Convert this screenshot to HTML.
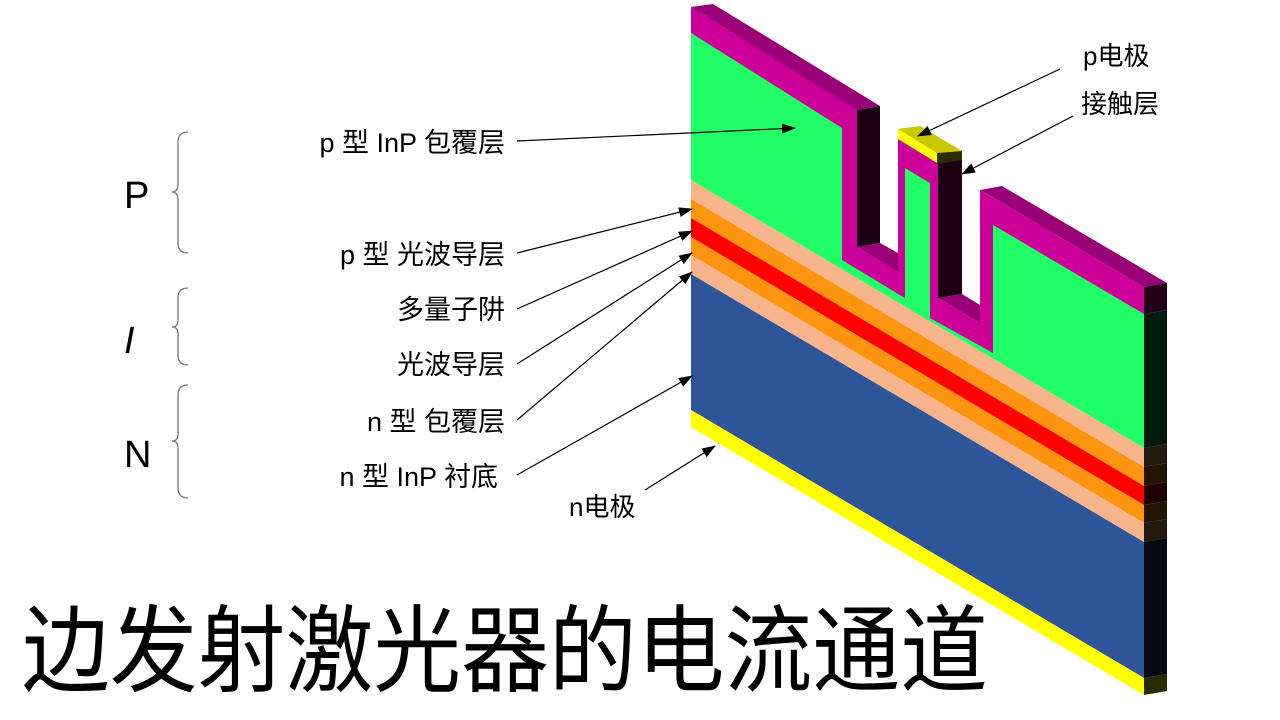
<!DOCTYPE html>
<html><head><meta charset="utf-8"><style>
html,body{margin:0;padding:0;background:#fff;}
svg{display:block;}
text{font-family:"Liberation Sans","Noto Sans CJK SC",sans-serif;fill:#000;}
</style></head><body>
<svg width="1280" height="720" viewBox="0 0 1280 720" xmlns="http://www.w3.org/2000/svg">
<defs>
<marker id="ah" markerWidth="14" markerHeight="10" refX="13" refY="5" orient="auto" markerUnits="userSpaceOnUse">
<path d="M0,0 L14,5 L0,10 z" fill="#000"/>
</marker>
</defs>
<polygon points="691,33 1144,310 1144,448 691,180" fill="#22FF66"/>
<polygon points="691,7 842,100 842,128 691,33" fill="#CC0099"/>
<polygon points="857,0 898,0 898,272 857,247" fill="#fff"/>
<polygon points="898,0 938,0 938,162 898,138" fill="#fff"/>
<polygon points="938,0 980,0 980,323 938,298" fill="#fff"/>
<polygon points="980,0 1170,0 1170,283 980,190" fill="#fff"/>
<polygon points="905,168 930,183 930,322 905,307" fill="#22FF66"/>
<polygon points="691,180 1144,448 1144,467 691,199" fill="#F8B58B"/>
<polygon points="691,199 1144,467 1144,486 691,218" fill="#FF9410"/>
<polygon points="691,218 1144,486 1144,505 691,237" fill="#FF0000"/>
<polygon points="691,237 1144,505 1144,523 691,255" fill="#FF9410"/>
<polygon points="691,255 1144,523 1144,542 691,274" fill="#F8B58B"/>
<polygon points="691,274 1144,542 1144,678 691,410" fill="#2E5597"/>
<polygon points="691,410 1144,678 1144,695 691,427" fill="#FFFF00"/>
<polygon points="842,100 857,110 857,247 842,260" fill="#CC0099"/>
<polygon points="842,245 857,247 898,272 905,272 905,298 842,260" fill="#CC0099"/>
<polygon points="898,138 938,162 938,322 930,318 930,183 905,168 905,298 898,294" fill="#CC0099"/>
<polygon points="930,300 938,298 980,323 993,330 993,353 930,318" fill="#CC0099"/>
<polygon points="980,190 993,198 993,353 980,345" fill="#CC0099"/>
<polygon points="980,190 1144,287 1144,314 993,225 993,198" fill="#CC0099"/>
<polygon points="691,7 713,4 880,106 857,110" fill="#990077"/>
<polygon points="857,247 880,243 898,253 898,272" fill="#990077"/>
<polygon points="938,298 962,294 980,305 980,323" fill="#990077"/>
<polygon points="980,190 1002,186 1167,283 1144,287" fill="#990077"/>
<polygon points="857,110 880,106 880,243 857,247" fill="#1C0014"/>
<polygon points="938,162 962,158 962,294 938,298" fill="#1C0014"/>
<polygon points="898,129 937,153 937,163 898,139" fill="#FFFF00"/>
<polygon points="898,129 920,126 962,151 937,153" fill="#C8C800"/>
<polygon points="937,153 962,151 962,160 937,164" fill="#2E2E00"/>
<polygon points="1144,287 1167,283 1167,310 1144,314" fill="#220018"/>
<polygon points="1144,314 1167,310 1167,444 1144,448" fill="#001A0D"/>
<polygon points="1144,448 1167,444 1167,463 1144,467" fill="#23190F"/>
<polygon points="1144,467 1167,463 1167,482 1144,486" fill="#231400"/>
<polygon points="1144,486 1167,482 1167,501 1144,505" fill="#1E0000"/>
<polygon points="1144,505 1167,501 1167,519 1144,523" fill="#231400"/>
<polygon points="1144,523 1167,519 1167,538 1144,542" fill="#23190F"/>
<polygon points="1144,542 1167,538 1167,674 1144,678" fill="#050A14"/>
<polygon points="1144,678 1167,674 1167,691 1144,695" fill="#2A2A00"/>
<g stroke="#000" stroke-width="1.2" fill="none" marker-end="url(#ah)">
<line x1="517" y1="141" x2="795" y2="128"/>
<line x1="517" y1="253" x2="692" y2="209"/>
<line x1="517" y1="309" x2="692" y2="231"/>
<line x1="517" y1="364" x2="692" y2="253"/>
<line x1="517" y1="420" x2="692" y2="272"/>
<line x1="517" y1="475" x2="692" y2="376"/>
<line x1="645" y1="490" x2="715" y2="446"/>
<line x1="1060" y1="69" x2="918" y2="136"/>
<line x1="1073" y1="116" x2="962" y2="174"/>
</g>
<g font-size="27" text-anchor="end">
<text x="505" y="152">p 型 InP 包覆层</text>
<text x="505" y="264">p 型 光波导层</text>
<text x="505" y="319">多量子阱</text>
<text x="505" y="374">光波导层</text>
<text x="505" y="431">n 型 包覆层</text>
<text x="498" y="486">n 型 InP 衬底</text>
</g>
<text x="569" y="516" font-size="26">n电极</text>
<text x="1083" y="65" font-size="26">p电极</text>
<text x="1081" y="113" font-size="26">接触层</text>
<text x="124" y="208" font-size="38">P</text>
<text x="124" y="353" font-size="38" font-style="italic">I</text>
<text x="124" y="467" font-size="38">N</text>
<g stroke="#777" stroke-width="1.3" fill="none">
<path d="M188,132 Q178,132 178,142 L178,184 Q178,192 172,192 Q178,192 178,200 L178,243 Q178,253 188,253"/>
<path d="M188,288 Q178,288 178,298 L178,320 Q178,327 172,327 Q178,327 178,334 L178,355 Q178,365 188,365"/>
<path d="M188,385 Q178,385 178,395 L178,434 Q178,441 172,441 Q178,441 178,448 L178,488 Q178,498 188,498"/>
</g>
<text x="22" y="0" font-size="88" textLength="966" lengthAdjust="spacingAndGlyphs" transform="translate(0,684) scale(1,1.08)">边发射激光器的电流通道</text>
</svg>
</body></html>
